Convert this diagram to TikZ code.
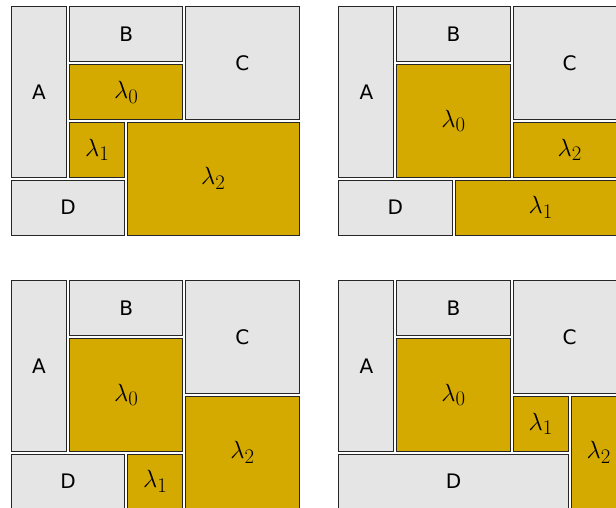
\documentclass[tikz,border=0pt]{standalone}
\usepackage[no-math]{fontspec}
\newfontfamily\dvs{DejaVu Sans}
\definecolor{boxgray}{HTML}{E5E5E5}
\definecolor{boxgold}{HTML}{D4AA00}
\definecolor{edge}{HTML}{262626}
\tikzset{
  cellbase/.style={draw=edge, line width=1pt, inner sep=0pt, anchor=center},
  gbox/.style={cellbase, fill=boxgray, font=\dvs\fontsize{20}{24}\selectfont},
  ybox/.style={cellbase, fill=boxgold, font=\fontsize{28}{32}\selectfont},
}
\def\px{58.1}\def\py{57.8}
% #1 style, #2 name, #3 ox, #4 oy, #5 col, #6 row, #7 w, #8 h, #9 text
\newcommand{\cellbox}[9]{%
  \node[#1, minimum width={#7*\px-3}, minimum height={#8*\py-3}] (#2)
    at ({#3+(#5+#7/2)*\px},{#4+(#6+#8/2)*\py}) {#9};}
\begin{document}
\begin{tikzpicture}[x=1pt,y=-1pt]
\useasboundingbox (0,0) rectangle (616,508);
\clip (0,0) rectangle (616,508);
% panel 1
\def\ox{10}\def\oy{5.3}
\cellbox{gbox}{pA}{\ox}{\oy}{0}{0}{1}{3}{A}
\cellbox{gbox}{pB}{\ox}{\oy}{1}{0}{2}{1}{B}
\cellbox{ybox}{pL0}{\ox}{\oy}{1}{1}{2}{1}{$\lambda_0$}
\cellbox{gbox}{pC}{\ox}{\oy}{3}{0}{2}{2}{C}
\cellbox{ybox}{pL1}{\ox}{\oy}{1}{2}{1}{1}{$\lambda_1$}
\cellbox{ybox}{pL2}{\ox}{\oy}{2}{2}{3}{2}{$\lambda_2$}
\cellbox{gbox}{pD}{\ox}{\oy}{0}{3}{2}{1}{D}
% panel 2
\def\ox{337.3}\def\oy{5.3}
\cellbox{gbox}{qA}{\ox}{\oy}{0}{0}{1}{3}{A}
\cellbox{gbox}{qB}{\ox}{\oy}{1}{0}{2}{1}{B}
\cellbox{ybox}{qL0}{\ox}{\oy}{1}{1}{2}{2}{$\lambda_0$}
\cellbox{gbox}{qC}{\ox}{\oy}{3}{0}{2}{2}{C}
\cellbox{ybox}{qL2}{\ox}{\oy}{3}{2}{2}{1}{$\lambda_2$}
\cellbox{gbox}{qD}{\ox}{\oy}{0}{3}{2}{1}{D}
\cellbox{ybox}{qL1}{\ox}{\oy}{2}{3}{3}{1}{$\lambda_1$}
% panel 3
\def\ox{10}\def\oy{279.3}
\cellbox{gbox}{rA}{\ox}{\oy}{0}{0}{1}{3}{A}
\cellbox{gbox}{rB}{\ox}{\oy}{1}{0}{2}{1}{B}
\cellbox{ybox}{rL0}{\ox}{\oy}{1}{1}{2}{2}{$\lambda_0$}
\cellbox{gbox}{rC}{\ox}{\oy}{3}{0}{2}{2}{C}
\cellbox{ybox}{rL2}{\ox}{\oy}{3}{2}{2}{2}{$\lambda_2$}
\cellbox{gbox}{rD}{\ox}{\oy}{0}{3}{2}{1}{D}
\cellbox{ybox}{rL1}{\ox}{\oy}{2}{3}{1}{1}{$\lambda_1$}
% panel 4
\def\ox{337.3}\def\oy{279.3}
\cellbox{gbox}{sA}{\ox}{\oy}{0}{0}{1}{3}{A}
\cellbox{gbox}{sB}{\ox}{\oy}{1}{0}{2}{1}{B}
\cellbox{ybox}{sL0}{\ox}{\oy}{1}{1}{2}{2}{$\lambda_0$}
\cellbox{gbox}{sC}{\ox}{\oy}{3}{0}{2}{2}{C}
\cellbox{ybox}{sL1}{\ox}{\oy}{3}{2}{1}{1}{$\lambda_1$}
\cellbox{ybox}{sL2}{\ox}{\oy}{4}{2}{1}{2}{$\lambda_2$}
\cellbox{gbox}{sD}{\ox}{\oy}{0}{3}{4}{1}{D}
\end{tikzpicture}
\end{document}
